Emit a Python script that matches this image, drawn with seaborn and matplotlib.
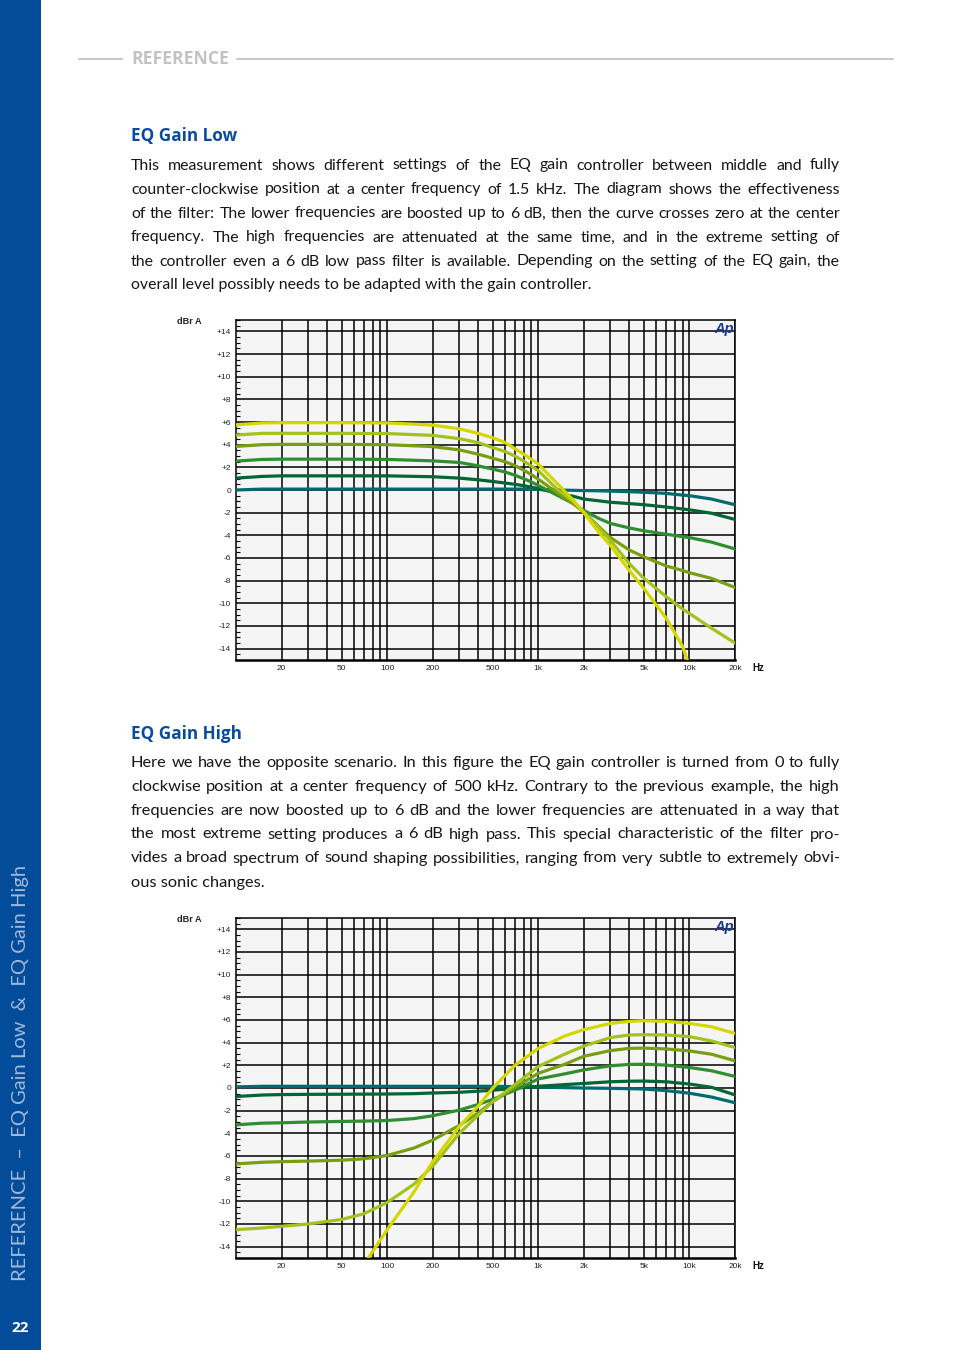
import matplotlib
matplotlib.use("Agg")
import matplotlib.pyplot as plt
import seaborn as sns
import pandas as pd
import numpy as np
from matplotlib.patches import Rectangle
from matplotlib.lines import Line2D
from matplotlib.ticker import NullFormatter, FixedLocator

W, H = 954, 1350
nan = np.nan

# ---------------- data: EQ Gain Low ----------------
low_freq = [10, 15, 20, 30, 50, 100, 200, 300, 400, 500, 600, 700, 800, 900, 1000,
            1350, 1700, 2000, 2500, 3000, 4000, 5000, 7000, 9000, 10000, 14000, 20000]
low_0 = [0.0, 0.08, 0.08, 0.08, 0.08, 0.08, 0.08, 0.08, 0.08, 0.08, 0.08, 0.08, 0.08, 0.06, 0.05,
         0.0, -0.03, -0.05, -0.07, -0.1, -0.15, -0.2, -0.3, -0.45, -0.5, -0.8, -1.3]
low_1 = [1.05, 1.2, 1.25, 1.25, 1.25, 1.25, 1.17, 1.05, 0.9, 0.75, 0.62, 0.5, 0.38, 0.25, 0.12,
         -0.3, -0.55, -0.8, -0.95, -1.08, -1.2, -1.3, -1.5, -1.68, -1.75, -2.05, -2.6]
low_2 = [2.55, 2.7, 2.72, 2.72, 2.72, 2.7, 2.57, 2.43, 2.13, 1.84, 1.6, 1.3, 1.0, 0.7, 0.4,
         -0.5, -1.2, -1.8, -2.5, -2.95, -3.35, -3.6, -3.9, -4.12, -4.2, -4.6, -5.2]
low_3 = [3.85, 4.0, 4.03, 4.03, 4.03, 4.0, 3.83, 3.54, 3.16, 2.8, 2.5, 2.15, 1.75, 1.35, 0.95,
         -0.3, -1.2, -1.95, -3.2, -4.2, -5.3, -5.9, -6.7, -7.1, -7.3, -7.8, -8.6]
low_4 = [4.85, 5.0, 5.0, 5.0, 5.0, 4.98, 4.82, 4.53, 4.18, 3.74, 3.4, 3.0, 2.55, 2.1, 1.7,
         0.0, -1.0, -1.95, -3.3, -4.45, -6.5, -7.8, -9.4, -10.5, -10.9, -12.2, -13.5]
low_5 = [5.75, 5.92, 5.94, 5.94, 5.94, 5.92, 5.73, 5.4, 5.0, 4.6, 4.2, 3.65, 3.16, 2.7, 2.28,
         0.5, -0.9, -2.0, -3.7, -4.9, -7.1, -8.7, -11.3, -13.8, -15.6, nan, nan]

# ---------------- data: EQ Gain High ----------------
high_freq = [10, 15, 20, 30, 50, 70, 100, 150, 200, 300, 400, 500, 700, 1000,
             1500, 2000, 3000, 4000, 5000, 7000, 10000, 14000, 20000]
high_0 = [0.1, 0.15, 0.15, 0.15, 0.15, 0.15, 0.15, 0.15, 0.15, 0.15, 0.15, 0.15, 0.12, 0.08,
          0.03, 0.0, -0.03, -0.06, -0.09, -0.23, -0.46, -0.8, -1.3]
high_1 = [-0.75, -0.62, -0.58, -0.56, -0.55, -0.54, -0.53, -0.5, -0.44, -0.38, -0.28, -0.2, -0.02, 0.15,
          0.3, 0.4, 0.55, 0.6, 0.61, 0.55, 0.35, 0.06, -0.61]
high_2 = [-3.25, -3.1, -3.07, -3.0, -2.95, -2.92, -2.87, -2.7, -2.45, -1.95, -1.45, -1.0, -0.2, 0.8,
          1.25, 1.6, 1.96, 2.08, 2.1, 2.02, 1.81, 1.52, 1.02]
high_3 = [-6.7, -6.55, -6.5, -6.45, -6.37, -6.25, -5.95, -5.3, -4.6, -3.3, -2.2, -1.2, 0.05, 1.3,
          2.1, 2.8, 3.3, 3.5, 3.52, 3.45, 3.27, 2.98, 2.4]
high_4 = [-12.5, -12.35, -12.2, -12.0, -11.6, -11.1, -10.1, -8.5, -6.9, -4.0, -2.4, -1.2, 0.3, 1.9,
          3.0, 3.7, 4.45, 4.68, 4.7, 4.68, 4.53, 4.15, 3.57]
high_5 = [nan, nan, nan, nan, nan, -15.6, -12.5, -9.2, -6.5, -3.4, -1.6, 0.0, 2.0, 3.5,
          4.6, 5.15, 5.7, 5.88, 5.94, 5.88, 5.7, 5.4, 4.82]

curve_colors = ["#006b6e", "#006633", "#2f8f30", "#7a9e12", "#a2c31c", "#d6d600"]

x_ticks = [20, 50, 100, 200, 500, 1000, 2000, 5000, 10000, 20000]
x_tick_labels = ["20", "50", "100", "200", "500", "1k", "2k", "5k", "10k", "20k"]
x_minor = [30, 40, 60, 70, 80, 90, 300, 400, 600, 700, 800, 900,
           3000, 4000, 6000, 7000, 8000, 9000]
y_ticks = list(range(14, -15, -2))
y_tick_labels = ["+14", "+12", "+10", "+8", "+6", "+4", "+2", "0",
                 "-2", "-4", "-6", "-8", "-10", "-12", "-14"]

para_low = [
    "This measurement shows different settings of the EQ gain controller between middle and fully",
    "counter-clockwise position at a center frequency of 1.5 kHz. The diagram shows the effectiveness",
    "of the filter: The lower frequencies are boosted up to 6 dB, then the curve crosses zero at the center",
    "frequency. The high frequencies are attenuated at the same time, and in the extreme setting of",
    "the controller even a 6 dB low pass filter is available. Depending on the setting of the EQ gain, the",
    "overall level possibly needs to be adapted with the gain controller.",
]
para_high = [
    "Here we have the opposite scenario. In this figure the EQ gain controller is turned from 0 to fully",
    "clockwise position at a center frequency of 500 kHz. Contrary to the previous example, the high",
    "frequencies are now boosted up to 6 dB and the lower frequencies are attenuated in a way that",
    "the most extreme setting produces a 6 dB high pass. This special characteristic of the filter pro-",
    "vides a broad spectrum of sound shaping possibilities, ranging from very subtle to extremely obvi-",
    "ous sonic changes.",
]

sns.set_theme(style="white")
plt.rcParams["font.family"] = ["Lato", "DejaVu Sans"]

BLUE = "#0a4c9c"
HEAD = ["Open Sans", "DejaVu Sans"]
fig = plt.figure(figsize=(W / 100, H / 100), dpi=100)
fig.patch.set_facecolor("white")
renderer = fig.canvas.get_renderer()


def fx(px):
    return px / W


def fy(py):
    return 1 - py / H


def justified(lines, x0, x1, base_y, step, size):
    # find a size where every line fits, then spread the words
    widths = []
    for line in lines:
        t = fig.text(0, 0, line, fontsize=size)
        widths.append(t.get_window_extent(renderer).width)
        t.remove()
    size = min(size, size * (x1 - x0 - 8) / max(widths))
    for i, line in enumerate(lines):
        y = fy(base_y + i * step)
        if i == len(lines) - 1:
            fig.text(fx(x0), y, line, fontsize=size, va="baseline", color="#161616")
            continue
        words = line.split()
        arts = [fig.text(0, y, w, fontsize=size, va="baseline", color="#161616") for w in words]
        ws = [a.get_window_extent(renderer).width for a in arts]
        gap = (x1 - x0 - sum(ws)) / (len(words) - 1)
        x = x0
        for a, w in zip(arts, ws):
            a.set_x(fx(x))
            x += w + gap


def draw_chart(top_px, freq, curves):
    ax = fig.add_axes([fx(236), fy(top_px + 340), fx(499), 340 / H])
    ax.set_facecolor("#f5f5f5")
    rows = []
    for k, vals in enumerate(curves):
        for f, v in zip(freq, vals):
            rows.append({"freq": f, "dB": v, "setting": k})
    df = pd.DataFrame(rows)
    sns.lineplot(data=df, x="freq", y="dB", hue="setting", palette=curve_colors,
                 estimator=None, legend=False, linewidth=2.3, ax=ax, zorder=3)
    ax.set_xscale("log")
    ax.set_xlim(10, 20000)
    ax.set_ylim(-15, 15)
    ax.set_xlabel("")
    ax.set_ylabel("")
    ax.xaxis.set_major_locator(FixedLocator(x_ticks))
    ax.xaxis.set_minor_locator(FixedLocator(x_minor))
    ax.set_xticklabels(x_tick_labels)
    ax.xaxis.set_minor_formatter(NullFormatter())
    ax.set_yticks(y_ticks)
    ax.set_yticklabels(y_tick_labels)
    ax.yaxis.set_minor_locator(FixedLocator(np.arange(-15, 15.01, 0.5)))
    ax.grid(which="both", axis="x", color="black", linewidth=1.1, zorder=1)
    ax.grid(which="major", axis="y", color="black", linewidth=1.1, zorder=1)
    ax.set_axisbelow(True)
    ax.tick_params(axis="x", which="both", length=0, pad=3.5, labelsize=6,
                   labelfontfamily="Liberation Sans", labelcolor="#222222")
    ax.tick_params(axis="y", which="major", direction="in", length=5, width=1, color="black",
                   pad=3.5, labelsize=6, labelfontfamily="Liberation Sans", labelcolor="#222222")
    ax.tick_params(axis="y", which="minor", direction="in", length=3, width=0.8, color="black",
                   left=True)
    for s in ax.spines.values():
        s.set_color("black")
        s.set_linewidth(1.1)
    ax.spines["bottom"].set_linewidth(1.8)
    ax.text(-0.119, 0.997, "dBr A", transform=ax.transAxes, fontsize=6.6, fontweight="bold",
            family="Liberation Sans", ha="left", va="center", color="#222222")
    ax.text(1.035, -0.0235, "Hz", transform=ax.transAxes, fontsize=7, fontweight="bold",
            family="Liberation Sans", ha="left", va="center", color="#111111")
    ax.text(0.997, 0.994, "Ap", transform=ax.transAxes, fontsize=10.5, fontweight="bold",
            fontstyle="italic", family="Liberation Sans", ha="right", va="top",
            color="#1f3a96", zorder=5)
    return ax


# page furniture
fig.add_artist(Rectangle((0, 0), fx(41), 1, transform=fig.transFigure,
                         facecolor="#024c9a", edgecolor="none"))
fig.text(fx(21), fy(1073), "REFERENCE  \u2013  EQ Gain Low  &  EQ Gain High", rotation=90,
         ha="center", va="center", fontsize=14.5, color="#a3b8da")
fig.text(fx(20), fy(1328), "22", ha="center", va="center", fontsize=11,
         fontweight="bold", color="white", family=HEAD)

fig.add_artist(Line2D([fx(79), fx(122)], [fy(59), fy(59)], color="#c8c8c8", lw=1.5))
fig.add_artist(Line2D([fx(237), fx(893)], [fy(59), fy(59)], color="#c8c8c8", lw=1.5))
fig.text(fx(131), fy(64.5), "REFERENCE", fontsize=12.6, fontweight="bold",
         color="#c2c2c2", va="baseline", family=HEAD)

fig.text(fx(131), fy(141), "EQ Gain Low", fontsize=12.3, fontweight="bold",
         color=BLUE, va="baseline", family=HEAD)
justified(para_low, 131, 840, 169.5, 24, 12.6)
draw_chart(320, low_freq, [low_0, low_1, low_2, low_3, low_4, low_5])

fig.text(fx(131), fy(739), "EQ Gain High", fontsize=12.3, fontweight="bold",
         color=BLUE, va="baseline", family=HEAD)
justified(para_high, 131, 840, 766.5, 24, 12.6)
draw_chart(918, high_freq, [high_0, high_1, high_2, high_3, high_4, high_5])

fig.savefig("out.png", dpi=100)
